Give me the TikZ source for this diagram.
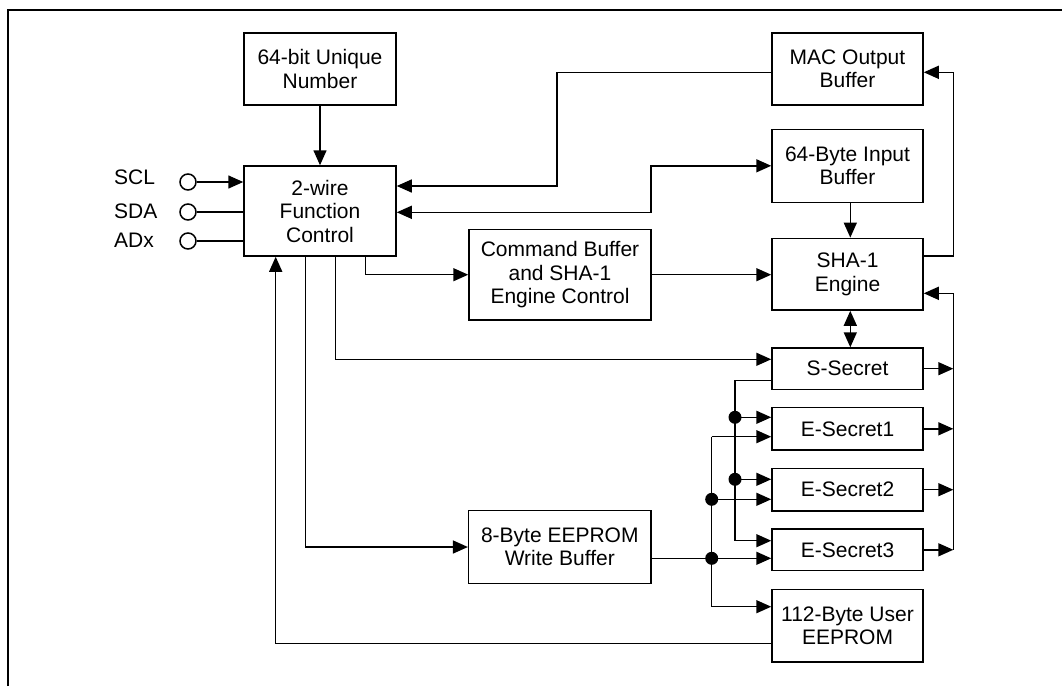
\documentclass[tikz,border=0pt]{standalone}
\usepackage{fontspec}
\setmainfont{Liberation Sans}
\usetikzlibrary{arrows.meta}
\begin{document}
\begin{tikzpicture}[x=1pt,y=-1pt,
  box/.style={draw,line width=1.5pt,align=center,inner sep=0pt,font=\fontsize{21}{23.5}\selectfont},
  wire/.style={line width=1.5pt},
  arr/.style={wire,-{Triangle[length=15pt,width=13pt]}},
  darr/.style={wire,{Triangle[length=15pt,width=13pt]}-{Triangle[length=15pt,width=13pt]}},
  dot/.style={circle,fill,inner sep=0pt,minimum size=13pt},
  pin/.style={circle,draw,line width=1.5pt,inner sep=0pt,minimum size=16pt},
  lbl/.style={anchor=west,inner sep=0pt,font=\fontsize{21}{23.5}\selectfont}]
\useasboundingbox (0,0) rectangle (1062,686);
% frame
\coordinate (f0) at (7.5,686);
\coordinate (f1) at (7.5,10);
\coordinate (f2) at (1062,10);
\draw[line width=2pt] (f0) -- (f1) -- (f2);

% boxes
\node[box,minimum width=152pt,minimum height=72pt] (uniq) at (320,69) {64-bit Unique\\Number};
\node[box,minimum width=152pt,minimum height=90pt] (fc) at (320,211) {2-wire\\Function\\Control};
\node[box,minimum width=151pt,minimum height=72pt] (mac) at (847.5,69) {MAC Output\\Buffer};
\node[box,minimum width=151pt,minimum height=73pt] (inbuf) at (847.5,165.8) {64-Byte Input\\Buffer};
\node[box,minimum width=151pt,minimum height=71.7pt] (sha) at (847.5,274.2) {SHA-1\\Engine};
\node[box,minimum width=182pt,minimum height=90.7pt] (cmd) at (560,274.7) {Command Buffer\\and SHA-1\\Engine Control};
\node[box,minimum width=151pt,minimum height=41.3pt] (ssec) at (847.5,368.7) {S-Secret};
\node[box,minimum width=151pt,minimum height=42.3pt] (es1) at (847.5,428.8) {E-Secret1};
\node[box,minimum width=151pt,minimum height=42.7pt] (es2) at (847.5,489.7) {E-Secret2};
\node[box,minimum width=151pt,minimum height=41.7pt] (es3) at (847.5,549.8) {E-Secret3};
\node[box,minimum width=151pt,minimum height=72.7pt] (user) at (847.5,625.7) {112-Byte User\\EEPROM};
\node[box,minimum width=182.3pt,minimum height=72.6pt] (wbuf) at (559.8,547) {8-Byte EEPROM\\Write Buffer};

% pins
\node[pin] (sclc) at (188,182) {};
\node[pin] (sdac) at (188,212) {};
\node[pin] (adxc) at (188,241) {};
\node[lbl] (scl) at (114,177) {SCL};
\node[lbl] (sda) at (114,211.5) {SDA};
\node[lbl] (adx) at (114,240.5) {ADx};
\draw[arr] (sclc.east) -- (fc.west |- sclc);
\draw[wire] (sdac.east) -- (fc.west |- sdac);
\draw[wire] (adxc.east) -- (fc.west |- adxc);

% unique -> fc
\draw[arr] (uniq) -- (fc);

% mac -> fc
\coordinate (m1) at (557,72.3);
\coordinate (m2) at (557,186);
\draw[arr] ([yshift=-3.3pt]mac.west) -- (m1) -- (m2) -- (fc.east |- m2);

% fc <-> input buffer
\coordinate (i1) at (651,212.3);
\coordinate (i2) at (651,165.8);
\draw[darr] (fc.east |- i1) -- (i1) -- (i2) -- (inbuf.west);

% fc -> cmd -> sha
\draw[arr] ([xshift=45.7pt]fc.south) |- (cmd.west);
\draw[arr] (cmd.east) -- (sha.west |- cmd.east);

% input buffer -> sha
\draw[arr] ([xshift=2.8pt]inbuf.south) -- ([xshift=2.8pt]sha.north);

% sha -> mac
\coordinate (r1) at (953.3,256);
\coordinate (r0) at (953.3,72.3);
\draw[arr] (sha.east |- r1) -- (r1) -- (r0) -- ([yshift=-3.3pt]mac.east);

% right collecting bus -> sha
\coordinate (rt) at (953.3,293.3);
\draw[arr] (es3.east -| rt) -- (rt) -- (sha.east |- rt);
\foreach \n in {ssec,es1,es2,es3} \draw[arr] (\n.east) -- (\n.east -| rt);

% sha <-> s-secret
\draw[darr] ([xshift=2.8pt]sha.south) -- ([xshift=2.8pt]ssec.north);

% fc -> s-secret, fc -> write buffer
\draw[arr] ([xshift=15.7pt]fc.south) |- ([yshift=9.4pt]ssec.west);
\draw[arr] ([xshift=-14.3pt]fc.south) |- (wbuf.west);

% user eeprom -> fc
\draw[arr] ([yshift=-17.6pt]user.west) -| ([xshift=-44.3pt]fc.south);

% bus A (from S-Secret)
\coordinate (a0) at (735,380.7);
\coordinate (a3) at (735,540.7);
\node[dot] (da1) at (735,417.3) {};
\node[dot] (da2) at (735,479.3) {};
\draw[arr] ([yshift=-12pt]ssec.west) -- (a0) -- (a3) -- (es3.west |- a3);
\draw[arr] (da1.center) -- (es1.west |- da1);
\draw[arr] (da2.center) -- (es2.west |- da2);

% bus B (from write buffer)
\coordinate (b0) at (711.7,436.7);
\coordinate (b4) at (711.7,606.7);
\node[dot] (db2) at (711.7,499.3) {};
\node[dot] (db3) at (711.7,558.3) {};
\draw[wire] (b0) -- (b4);
\draw[arr] (b0) -- (es1.west |- b0);
\draw[arr] (db2.center) -- (es2.west |- db2);
\draw[arr] (wbuf.east |- db3) -- (es3.west |- db3);
\draw[arr] (b4) -- (user.west |- b4);
\end{tikzpicture}
\end{document}
